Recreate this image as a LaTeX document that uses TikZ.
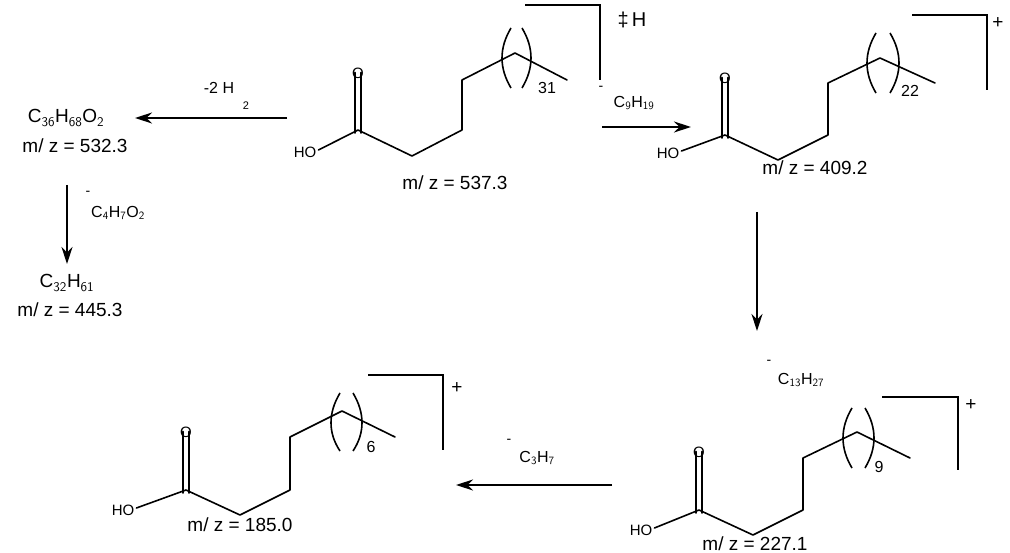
\documentclass[tikz,border=0pt]{standalone}
\usepackage{fontspec}
\setmainfont{Liberation Sans}
\usetikzlibrary{arrows.meta}
\begin{document}
\begin{tikzpicture}[x=1pt,y=-1pt,
  bond/.style={line width=1.6pt,line cap=round,line join=round},
  paren/.style={line width=1.6pt},
  brk/.style={line width=1.6pt},
  rxn/.style={line width=1.4pt,-{Stealth[length=17pt,width=11pt]}},
  big/.style={inner sep=0pt,font=\fontsize{19}{19}\selectfont},
  lab/.style={inner sep=0pt,font=\fontsize{15}{15}\selectfont},
  idx/.style={inner sep=0pt,font=\fontsize{16}{16}\selectfont}]
\useasboundingbox (0,0) rectangle (1010,553);
% ---------- molecule 1 (537.3) ----------
\node[lab] (ho1) at (305,152) {HO};
\node[lab] (o1) at (358,73) {O};
\coordinate (c1a) at (358,130); \coordinate (c1b) at (412,156);
\coordinate (c1c) at (462,130); \coordinate (c1d) at (462,80);
\coordinate (c1e) at (515,53); \coordinate (c1f) at (567,80);
\draw[bond] (ho1.east) ++(2,-2) -- (c1a) -- (c1b) -- (c1c) -- (c1d) -- (c1e) -- (c1f);
\draw[bond] ([xshift=-3]c1a) -- ([xshift=-3]o1.south) ++(0,4);
\draw[bond] ([xshift=-3,yshift=-3]c1a) -- ([xshift=-3,yshift=6]o1.south);
\draw[bond] ([xshift=3,yshift=-3]c1a) -- ([xshift=3,yshift=6]o1.south);
\draw[paren] (511,28) .. controls (499,48) and (499,68) .. (511,88);
\draw[paren] (522,28) .. controls (534,48) and (534,68) .. (522,88);
\node[idx] (n31) at (547,88) {31};
\draw[brk] (525,5) -- (600,5) -- (600,80);
\node[big] (dag) at (632,20) {\fontsize{20}{20}\selectfont‡\,H};
\node[big] (minus1) at (601,88) {\fontsize{14}{14}\selectfont -};
\node[big] (c9) at (634,103) {\fontsize{16}{16}\selectfont C$_{\mathsf{9}}$H$_{\mathsf{19}}$};
\node[big] (mz1) at (455,183) {m/ z = 537.3};
% ---------- molecule 2 (409.2) ----------
\node[lab] (ho2) at (668,153) {HO};
\node[lab] (o2) at (725,78) {O};
\coordinate (c2a) at (725,135); \coordinate (c2b) at (778,160);
\coordinate (c2c) at (828,135); \coordinate (c2d) at (828,83);
\coordinate (c2e) at (880,58); \coordinate (c2f) at (935,83);
\draw[bond] (ho2.east) ++(2,-2) -- (c2a) -- (c2b) -- (c2c) -- (c2d) -- (c2e) -- (c2f);
\draw[bond] ([xshift=-3,yshift=-3]c2a) -- ([xshift=-3,yshift=6]o2.south);
\draw[bond] ([xshift=3,yshift=-3]c2a) -- ([xshift=3,yshift=6]o2.south);
\draw[paren] (876,33) .. controls (864,53) and (864,73) .. (876,93);
\draw[paren] (890,33) .. controls (902,53) and (902,73) .. (890,93);
\node[idx] (n22) at (910,91) {22};
\draw[brk] (912,15) -- (987,15) -- (987,90);
\node[big] (plus2) at (998,23) {+};
\node[big] (mz2) at (815,168) {m/ z = 409.2};
% ---------- molecule 3 (227.1) ----------
\node[lab] (ho3) at (641,530) {HO};
\node[lab] (o3) at (699,452) {O};
\coordinate (c3a) at (699,510); \coordinate (c3b) at (753,535);
\coordinate (c3c) at (803,510); \coordinate (c3d) at (803,458);
\coordinate (c3e) at (857,432); \coordinate (c3f) at (910,458);
\draw[bond] (ho3.east) ++(2,-2) -- (c3a) -- (c3b) -- (c3c) -- (c3d) -- (c3e) -- (c3f);
\draw[bond] ([xshift=-3,yshift=-3]c3a) -- ([xshift=-3,yshift=6]o3.south);
\draw[bond] ([xshift=3,yshift=-3]c3a) -- ([xshift=3,yshift=6]o3.south);
\draw[paren] (852,408) .. controls (840,428) and (840,448) .. (852,468);
\draw[paren] (865,408) .. controls (877,428) and (877,448) .. (865,468);
\node[idx] (n9) at (879,467) {9};
\draw[brk] (882,397) -- (958,397) -- (958,470);
\node[big] (plus3) at (971,405) {+};
\node[big] (mz3) at (755,544) {m/ z = 227.1};
% ---------- molecule 4 (185.0) ----------
\node[lab] (ho4) at (123,510) {HO};
\node[lab] (o4) at (186,432) {O};
\coordinate (c4a) at (186,490); \coordinate (c4b) at (240,515);
\coordinate (c4c) at (290,490); \coordinate (c4d) at (290,437);
\coordinate (c4e) at (342,411); \coordinate (c4f) at (395,437);
\draw[bond] (ho4.east) ++(2,-2) -- (c4a) -- (c4b) -- (c4c) -- (c4d) -- (c4e) -- (c4f);
\draw[bond] ([xshift=-3,yshift=-3]c4a) -- ([xshift=-3,yshift=6]o4.south);
\draw[bond] ([xshift=3,yshift=-3]c4a) -- ([xshift=3,yshift=6]o4.south);
\draw[paren] (340,393) .. controls (328,413) and (328,433) .. (340,451);
\draw[paren] (353,393) .. controls (365,413) and (365,433) .. (353,451);
\node[idx] (n6) at (371,447) {6};
\draw[brk] (368,375) -- (443,375) -- (443,450);
\node[big] (plus4) at (457,388) {+};
\node[big] (mz4) at (240,525) {m/ z = 185.0};
% ---------- left products ----------
\node[big] (p1) at (66,118) {C$_{\mathsf{36}}$H$_{\mathsf{68}}$O$_{\mathsf{2}}$};
\node[big] (mzp1) at (75,146) {m/ z = 532.3};
\node[big] (p2) at (67,283) {C$_{\mathsf{32}}$H$_{\mathsf{61}}$};
\node[big] (mzp2) at (70,310) {m/ z = 445.3};
% ---------- arrows and losses ----------
\coordinate (a1s) at (287,118); \coordinate (a1e) at (135,118);
\draw[rxn] (a1s) -- (a1e);
\node[big] (l1) at (219,88) {\fontsize{16}{16}\selectfont -2 H};
\node[big] (l1b) at (246,106) {\fontsize{11}{11}\selectfont 2};
\coordinate (a2s) at (67,185); \coordinate (a2e) at (67,264);
\draw[rxn] (a2s) -- (a2e);
\node[big] (l2m) at (88,193) {\fontsize{14}{14}\selectfont -};
\node[big] (l2) at (118,213) {\fontsize{16}{16}\selectfont C$_{\mathsf{4}}$H$_{\mathsf{7}}$O$_{\mathsf{2}}$};
\coordinate (a3s) at (602,127); \coordinate (a3e) at (691,127);
\draw[rxn] (a3s) -- (a3e);
\coordinate (a4s) at (757,212); \coordinate (a4e) at (757,331);
\draw[rxn] (a4s) -- (a4e);
\node[big] (l4m) at (769,362) {\fontsize{14}{14}\selectfont -};
\node[big] (l4) at (801,380) {\fontsize{16}{16}\selectfont C$_{\mathsf{13}}$H$_{\mathsf{27}}$};
\coordinate (a5s) at (612,485); \coordinate (a5e) at (456,485);
\draw[rxn] (a5s) -- (a5e);
\node[big] (l5m) at (509,441) {\fontsize{14}{14}\selectfont -};
\node[big] (l5) at (537,458) {\fontsize{16}{16}\selectfont C$_{\mathsf{3}}$H$_{\mathsf{7}}$};
\end{tikzpicture}
\end{document}
